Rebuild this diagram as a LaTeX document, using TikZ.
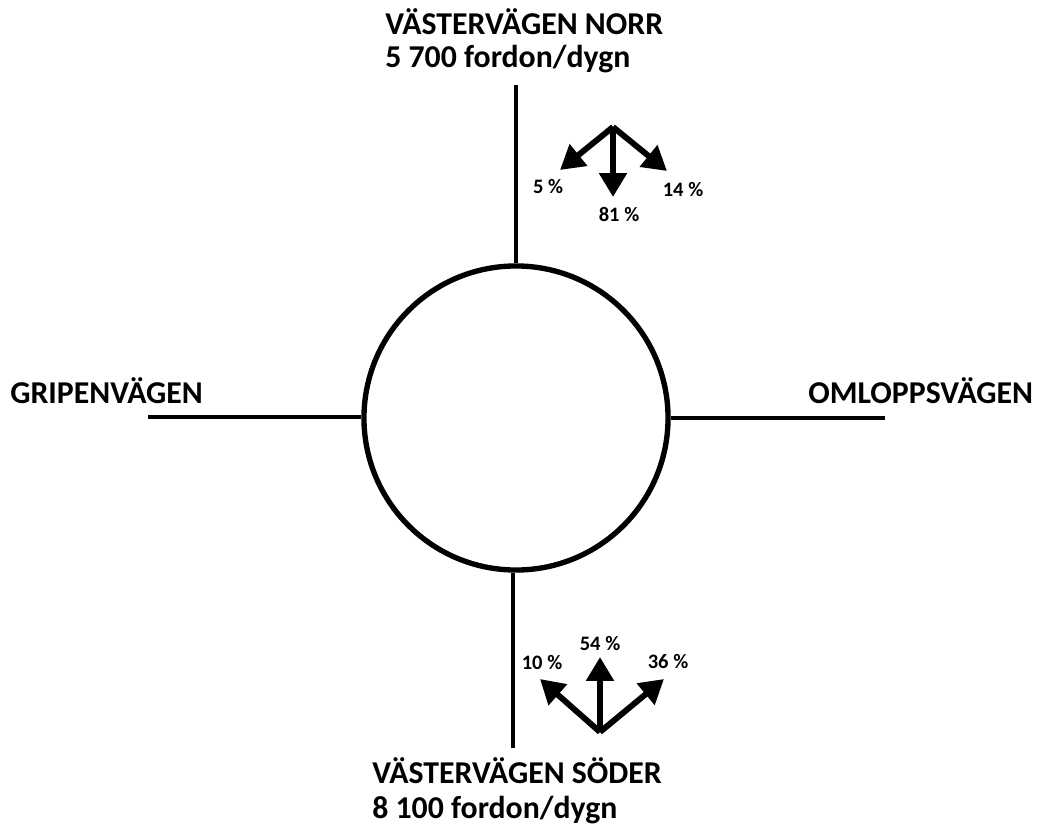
\documentclass[tikz,border=0pt]{standalone}
\usepackage{fontspec}
\setmainfont{Carlito}
\usetikzlibrary{arrows.meta}
\tikzstyle{ring}=[circle,draw,line width=3.8pt,minimum size=7.6cm,inner sep=0pt]
\tikzstyle{road}=[draw,line width=3pt,-]
\tikzstyle{flow}=[draw,line width=4.2pt,-{Triangle[length=17pt,width=19pt]}]
\tikzstyle{street}=[font=\fontsize{22.6}{26}\selectfont\bfseries,inner sep=0pt,anchor=base west]
\tikzstyle{pct}=[font=\fontsize{14.6}{17}\selectfont\bfseries,inner sep=0pt]

\begin{document}
\begin{tikzpicture}[x=0.025cm,y=-0.025cm]
	\useasboundingbox (0,0) rectangle (1037,827);
	\node[ring] (rb) at (516,418) {};
    \coordinate (rn) at (516,85);
    \coordinate (rs) at (513,748);
    \coordinate (rw) at (148,417);
    \coordinate (re) at (885,418);
    \path[road] (rn) -- (rn |- rb.north);
    \path[road] (rs) -- (rs |- rb.south);
    \path[road] (rw) -- (rw -| rb.west);
    \path[road] (re) -- (re -| rb.east);

    % street names
    \node[street] (nname) at (385,35) {VÄSTERVÄGEN NORR};
    \node[street] (nflow) at (385,68) {5 700 fordon/dygn};
    \node[street] (sname) at (372,783) {VÄSTERVÄGEN SÖDER};
    \node[street] (sflow) at (372,818) {8 100 fordon/dygn};
    \node[street] (wname) at (10,403) {GRIPENVÄGEN};
    \node[street] (ename) at (808,403) {OMLOPPSVÄGEN};

    % turning shares
    \coordinate (no) at (613,127);
    \coordinate (so) at (600,732);
    \coordinate (nl) at (560,170);
    \coordinate (nd) at (613,197);
    \coordinate (nr) at (667,171);
    \coordinate (sl) at (540,679);
    \coordinate (su) at (600,657);
    \coordinate (sr) at (664,679);
    \foreach \source/\dest in {no/nl, no/nd, no/nr, so/sl, so/su, so/sr}
        \path[flow] (\source) -- (\dest);
    \node[pct] (pnl) at (548,187) {5 \%};
    \node[pct] (pnd) at (619,214) {81 \%};
    \node[pct] (pnr) at (683,190) {14 \%};
    \node[pct] (psl) at (542,662) {10 \%};
    \node[pct] (psu) at (600,643) {54 \%};
    \node[pct] (psr) at (668,661) {36 \%};
\end{tikzpicture}
\end{document}
